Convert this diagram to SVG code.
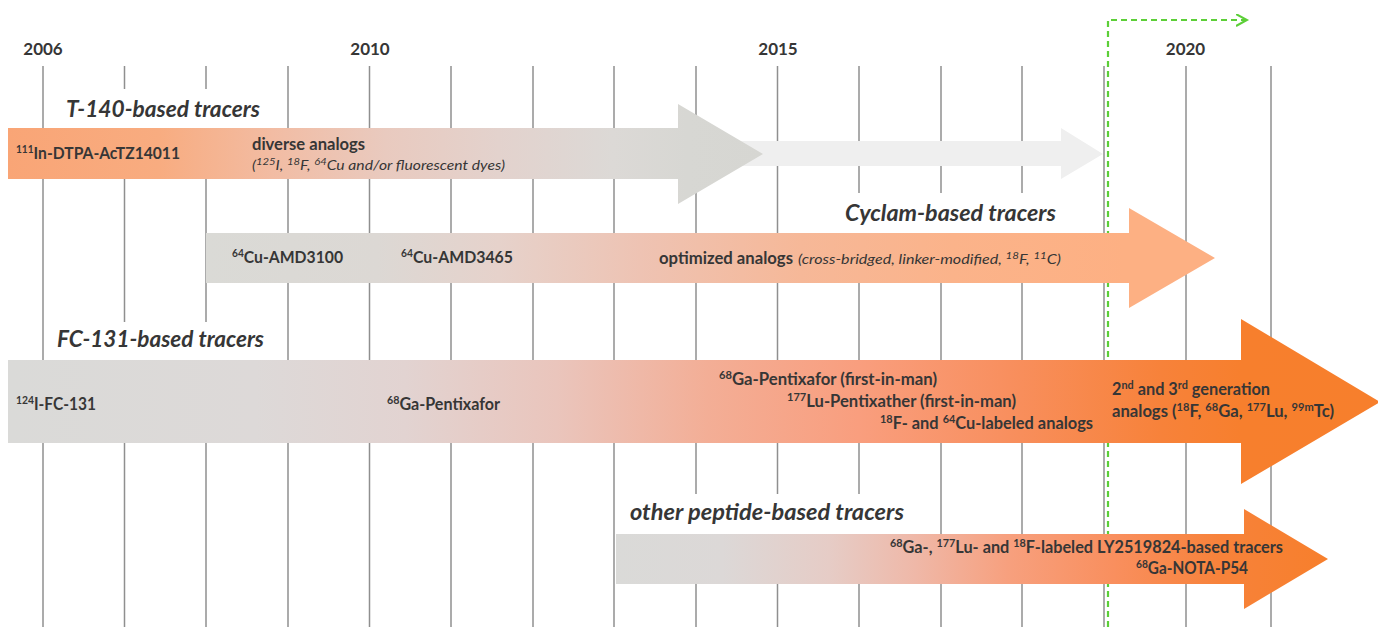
<svg xmlns="http://www.w3.org/2000/svg" width="1378" height="627" viewBox="0 0 1378 627">
<style>
.t{font-family:Lato,'Liberation Sans',sans-serif;fill:#363636}
.yr{font-size:17px;font-weight:bold;text-anchor:middle}
.ti{font-size:22px;font-weight:bold;font-style:italic}
.b{font-size:17px;font-weight:bold}
.m{font-size:16.5px;font-weight:bold}
.it{font-size:14px;font-style:italic}
.s{font-size:11px}
.s2{font-size:10px}
.grid line{stroke:#8f8f8f;stroke-width:1.5}
.box{fill:#ffffff}
</style>
<defs>
<linearGradient id="gT" gradientUnits="userSpaceOnUse" x1="8" y1="0" x2="763" y2="0">
<stop offset="0" stop-color="#F9A576"/>
<stop offset="0.2" stop-color="#F8AC80"/>
<stop offset="0.35" stop-color="#F2BCA3"/>
<stop offset="0.5" stop-color="#E9CABF"/>
<stop offset="0.65" stop-color="#E3D2CD"/>
<stop offset="0.8" stop-color="#DCD9D6"/>
<stop offset="0.9" stop-color="#D7D7D3"/>
<stop offset="1" stop-color="#D6D6D2"/>
</linearGradient>
<linearGradient id="gC" gradientUnits="userSpaceOnUse" x1="206" y1="0" x2="1215" y2="0">
<stop offset="0" stop-color="#DADAD6"/>
<stop offset="0.17" stop-color="#DCD8D4"/>
<stop offset="0.29" stop-color="#E6D2CB"/>
<stop offset="0.43" stop-color="#EEC3B3"/>
<stop offset="0.59" stop-color="#F6B898"/>
<stop offset="0.74" stop-color="#FBB38A"/>
<stop offset="0.91" stop-color="#FDB083"/>
<stop offset="1" stop-color="#FDB083"/>
</linearGradient>
<linearGradient id="gF" gradientUnits="userSpaceOnUse" x1="8" y1="0" x2="1380" y2="0">
<stop offset="0" stop-color="#DADAD8"/>
<stop offset="0.18" stop-color="#DDD9D8"/>
<stop offset="0.29" stop-color="#E2D3D1"/>
<stop offset="0.4" stop-color="#EAC5BC"/>
<stop offset="0.51" stop-color="#F3AE96"/>
<stop offset="0.62" stop-color="#F99E7E"/>
<stop offset="0.73" stop-color="#F88F5E"/>
<stop offset="0.84" stop-color="#F7823A"/>
<stop offset="0.9" stop-color="#F77F2D"/>
<stop offset="1" stop-color="#F77F2C"/>
</linearGradient>
<linearGradient id="gO" gradientUnits="userSpaceOnUse" x1="616" y1="0" x2="1328" y2="0">
<stop offset="0" stop-color="#DADAD8"/>
<stop offset="0.15" stop-color="#DCD8D7"/>
<stop offset="0.3" stop-color="#E6CCC6"/>
<stop offset="0.42" stop-color="#EFB8A8"/>
<stop offset="0.55" stop-color="#F7A07E"/>
<stop offset="0.7" stop-color="#F98F5E"/>
<stop offset="0.85" stop-color="#F7823A"/>
<stop offset="1" stop-color="#F77F2C"/>
</linearGradient>
<marker id="chev" markerWidth="14" markerHeight="14" refX="11" refY="6" orient="auto" markerUnits="userSpaceOnUse">
<polyline points="0,0 11,6 0,12" fill="none" stroke="#5CCF38" stroke-width="2"/>
</marker>
</defs>
<rect width="1378" height="627" fill="#ffffff"/>

<g id="years" class="t yr">
<text x="43" y="55">2006</text>
<text x="370" y="55">2010</text>
<text x="778" y="55">2015</text>
<text x="1185.5" y="55">2020</text>
</g>

<g id="grid" class="grid">
<line x1="43" y1="66" x2="43" y2="627"/>
<line x1="124.5" y1="66" x2="124.5" y2="627"/>
<line x1="206" y1="66" x2="206" y2="627"/>
<line x1="288" y1="66" x2="288" y2="627"/>
<line x1="369.5" y1="66" x2="369.5" y2="627"/>
<line x1="451" y1="66" x2="451" y2="627"/>
<line x1="533" y1="66" x2="533" y2="627"/>
<line x1="614" y1="66" x2="614" y2="627"/>
<line x1="696" y1="66" x2="696" y2="627"/>
<line x1="777.5" y1="66" x2="777.5" y2="627"/>
<line x1="859" y1="66" x2="859" y2="627"/>
<line x1="941" y1="66" x2="941" y2="627"/>
<line x1="1022" y1="66" x2="1022" y2="627"/>
<line x1="1104" y1="66" x2="1104" y2="627"/>
<line x1="1186" y1="66" x2="1186" y2="627"/>
<line x1="1271" y1="66" x2="1271" y2="627"/>
</g>

<g id="connectors">
<path d="M1108,627 V20 H1247" fill="none" stroke="#5CCF38" stroke-width="2.2" stroke-dasharray="6 4" marker-end="url(#chev)"/>
</g>

<g id="t140-extension">
<polygon points="700,141 1061,141 1061,128 1103,154 1061,179 1061,166 700,166" fill="#EFEFEF"/>
</g>

<g id="t140">
<rect class="box" x="48" y="89" width="234" height="39"/>
<text class="t ti" x="66" y="117" textLength="194" lengthAdjust="spacingAndGlyphs">T-140-based tracers</text>
<polygon points="8,128 678,128 678,104 763,154 678,204 678,179 8,179" fill="url(#gT)"/>
<text class="t b" x="16" y="159" textLength="164" lengthAdjust="spacingAndGlyphs"><tspan class="s" dy="-6">111</tspan><tspan dy="6">In-DTPA-AcTZ14011</tspan></text>
<text class="t b" x="252" y="150" textLength="113" lengthAdjust="spacingAndGlyphs">diverse analogs</text>
<text class="t it" x="252" y="170" textLength="253" lengthAdjust="spacingAndGlyphs">(<tspan class="s2" dy="-5">125</tspan><tspan dy="5">I, </tspan><tspan class="s2" dy="-5">18</tspan><tspan dy="5">F, </tspan><tspan class="s2" dy="-5">64</tspan><tspan dy="5">Cu and/or fluorescent dyes)</tspan></text>
</g>

<g id="cyclam">
<rect class="box" x="834" y="193" width="237" height="40"/>
<text class="t ti" x="845" y="221" textLength="211" lengthAdjust="spacingAndGlyphs">Cyclam-based tracers</text>
<polygon points="206,233 1129,233 1129,208 1215,258 1129,308 1129,283 206,283" fill="url(#gC)"/>
<text class="t b" x="232" y="263" textLength="111" lengthAdjust="spacingAndGlyphs"><tspan class="s" dy="-6">64</tspan><tspan dy="6">Cu-AMD3100</tspan></text>
<text class="t b" x="401" y="263" textLength="112" lengthAdjust="spacingAndGlyphs"><tspan class="s" dy="-6">64</tspan><tspan dy="6">Cu-AMD3465</tspan></text>
<text class="t b" x="659" y="264" textLength="134" lengthAdjust="spacingAndGlyphs">optimized analogs</text>
<text class="t it" x="798" y="264" textLength="263" lengthAdjust="spacingAndGlyphs">(cross-bridged, linker-modified, <tspan class="s2" dy="-5">18</tspan><tspan dy="5">F, </tspan><tspan class="s2" dy="-5">11</tspan><tspan dy="5">C)</tspan></text>
</g>

<g id="fc131">
<rect class="box" x="48" y="322" width="234" height="38"/>
<text class="t ti" x="57" y="347" textLength="207" lengthAdjust="spacingAndGlyphs">FC-131-based tracers</text>
<polygon points="8,360 1241,360 1241,319 1380,402 1241,484 1241,443 8,443" fill="url(#gF)"/>
<text class="t m" x="16" y="410" textLength="80" lengthAdjust="spacingAndGlyphs"><tspan class="s" dy="-6">124</tspan><tspan dy="6">I-FC-131</tspan></text>
<text class="t m" x="387" y="410" textLength="113" lengthAdjust="spacingAndGlyphs"><tspan class="s" dy="-6">68</tspan><tspan dy="6">Ga-Pentixafor</tspan></text>
<text class="t m" x="719" y="385" textLength="218" lengthAdjust="spacingAndGlyphs"><tspan class="s" dy="-6">68</tspan><tspan dy="6">Ga-Pentixafor (first-in-man)</tspan></text>
<text class="t m" x="787" y="407" textLength="229" lengthAdjust="spacingAndGlyphs"><tspan class="s" dy="-6">177</tspan><tspan dy="6">Lu-Pentixather (first-in-man)</tspan></text>
<text class="t m" x="880" y="429" textLength="213" lengthAdjust="spacingAndGlyphs"><tspan class="s" dy="-6">18</tspan><tspan dy="6">F- and </tspan><tspan class="s" dy="-6">64</tspan><tspan dy="6">Cu-labeled analogs</tspan></text>
<text class="t m" x="1112" y="395" textLength="158" lengthAdjust="spacingAndGlyphs">2<tspan class="s" dy="-6">nd</tspan><tspan dy="6"> and 3</tspan><tspan class="s" dy="-6">rd</tspan><tspan dy="6"> generation</tspan></text>
<text class="t m" x="1112" y="417" textLength="222" lengthAdjust="spacingAndGlyphs">analogs (<tspan class="s" dy="-6">18</tspan><tspan dy="6">F, </tspan><tspan class="s" dy="-6">68</tspan><tspan dy="6">Ga, </tspan><tspan class="s" dy="-6">177</tspan><tspan dy="6">Lu, </tspan><tspan class="s" dy="-6">99m</tspan><tspan dy="6">Tc)</tspan></text>
</g>

<g id="other-peptide">
<rect class="box" x="617" y="494" width="302" height="40"/>
<text class="t ti" x="630" y="520" textLength="274" lengthAdjust="spacingAndGlyphs">other peptide-based tracers</text>
<polygon points="616,534 1244,534 1244,509 1328,559 1244,609 1244,584 616,584" fill="url(#gO)"/>
<text class="t m" x="890" y="553" textLength="393" lengthAdjust="spacingAndGlyphs"><tspan class="s" dy="-6">68</tspan><tspan dy="6">Ga-, </tspan><tspan class="s" dy="-6">177</tspan><tspan dy="6">Lu- and </tspan><tspan class="s" dy="-6">18</tspan><tspan dy="6">F-labeled LY2519824-based tracers</tspan></text>
<text class="t m" x="1136" y="574" textLength="112" lengthAdjust="spacingAndGlyphs"><tspan class="s" dy="-6">68</tspan><tspan dy="6">Ga-NOTA-P54</tspan></text>
</g>
</svg>
